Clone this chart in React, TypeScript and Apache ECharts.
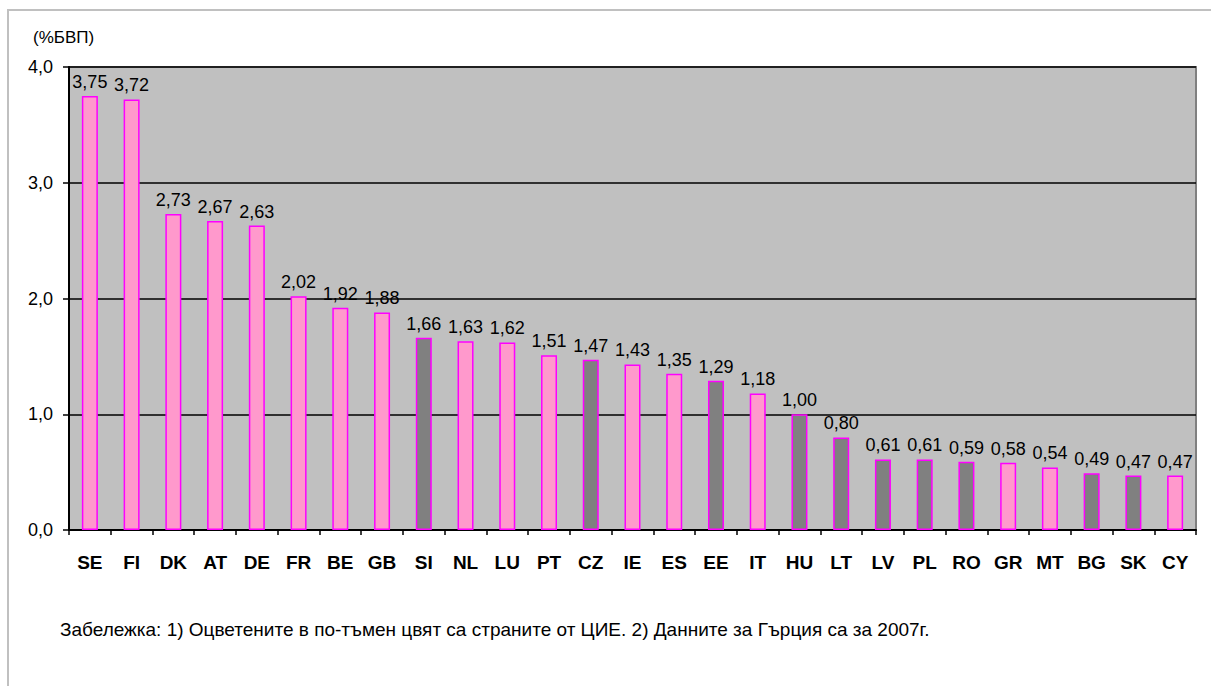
import React, { useEffect, useRef } from "react";
import * as echarts from "echarts";

const countries = ["SE","FI","DK","AT","DE","FR","BE","GB","SI","NL","LU","PT","CZ","IE","ES","EE","IT","HU","LT","LV","PL","RO","GR","MT","BG","SK","CY"];
const values = [3.75,3.72,2.73,2.67,2.63,2.02,1.92,1.88,1.66,1.63,1.62,1.51,1.47,1.43,1.35,1.29,1.18,1.00,0.80,0.61,0.61,0.59,0.58,0.54,0.49,0.47,0.47];
const newMembers = ["SI","CZ","EE","HU","LT","LV","PL","RO","BG","SK"];
const yTicks = [0, 1, 2, 3, 4];
const unitLabel = "(%БВП)";
const noteText = "Забележка: 1) Оцветените в по-тъмен цвят са страните от ЦИЕ. 2) Данните за Гърция са за 2007г.";

const fmt = (v: number, d: number) => v.toFixed(d).replace(".", ",");

export default function App() {
  const ref = useRef<HTMLDivElement>(null);
  useEffect(() => {
    const chart = echarts.init(ref.current!, undefined, { renderer: "svg" });
    const font = "'Liberation Sans', Arial, sans-serif";
    chart.setOption({
      animation: false,
      backgroundColor: "#ffffff",
      textStyle: { fontFamily: font },
      grid: {
        left: 69, top: 67, right: 15, bottom: 156,
        show: true, backgroundColor: "#c0c0c0", borderColor: "#808080", borderWidth: 2,
      },
      graphic: [
        { type: "rect", shape: { x: 8, y: 10, width: 1400, height: 900 }, style: { fill: "none", stroke: "#c0c0c0", lineWidth: 2 }, silent: true, z: -10 },
        { type: "text", left: 33, top: 29, style: { text: unitLabel, fontSize: 17, fontFamily: font, fill: "#000" } },
        { type: "text", left: 60, top: 620, style: { text: noteText, fontSize: 19, fontFamily: font, fill: "#000" } },
      ],
      xAxis: {
        type: "category",
        data: countries,
        axisLine: { lineStyle: { color: "#000", width: 2 } },
        axisTick: { show: true, length: 5, lineStyle: { color: "#000", width: 1.5 } },
        axisLabel: { color: "#000", fontSize: 19, fontWeight: "bold", margin: 23, fontFamily: font },
        splitLine: { show: false },
      },
      yAxis: {
        type: "value",
        min: yTicks[0], max: yTicks[yTicks.length - 1], interval: 1,
        axisLine: { show: true, lineStyle: { color: "#000", width: 2 } },
        axisTick: { show: true, length: 6, lineStyle: { color: "#000", width: 1.5 } },
        axisLabel: { color: "#000", fontSize: 18, margin: 16, formatter: (v: number) => fmt(v, 1), fontFamily: font },
        splitLine: { show: true, lineStyle: { color: "#000", width: 1.5 } },
      },
      series: [{
        type: "bar",
        barWidth: 16,
        data: values.map((v, i) => ({
          value: v,
          itemStyle: {
            color: newMembers.includes(countries[i]) ? "#808080" : "#ff99cc",
            borderColor: "#ff00ff",
            borderWidth: 1.5,
          },
        })),
        label: {
          show: true, position: "top", distance: 5, color: "#000", fontSize: 18, fontFamily: font,
          formatter: (p: any) => fmt(p.value, 2),
        },
      }],
    });
    return () => chart.dispose();
  }, []);
  return <div ref={ref} style={{ position: "absolute", left: 0, top: 0, width: 1211, height: 686 }} />;
}
